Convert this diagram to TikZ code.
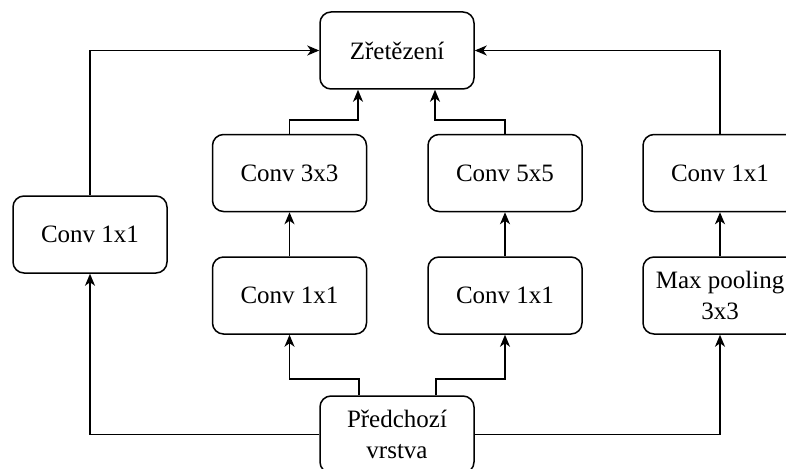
\documentclass[tikz,border=0pt]{standalone}
\usepackage{fontspec}
\setmainfont{Liberation Serif}
\usetikzlibrary{arrows.meta}
\begin{document}
\begin{tikzpicture}[x=1pt,y=-1pt,
  blk/.style={draw,line width=1.5pt,rounded corners=11pt,minimum width=154pt,minimum height=77pt,inner sep=0pt,align=center,font=\fontsize{25}{31}\selectfont},
  conn/.style={line width=1.5pt,-{Stealth[length=12pt,width=10pt,inset=3.5pt]}}]
\useasboundingbox (0,0) rectangle (786,468);
\clip (0,0) rectangle (786,468);
\node[blk] (cat) at (397,50.5) {Zřetězení};
\node[blk] (c33) at (289.5,173) {Conv 3x3};
\node[blk] (c55) at (505,173) {Conv 5x5};
\node[blk] (cl) at (90,234.5) {Conv 1x1};
\node[blk] (cr) at (720,173) {Conv 1x1};
\node[blk] (m1) at (289.5,295.5) {Conv 1x1};
\node[blk] (m2) at (505,295.5) {Conv 1x1};
\node[blk] (mp) at (720,295.5) {Max pooling\\3x3};
\node[blk] (prev) at (397,434.5) {Předchozí\\vrstva};
% inputs
\draw[conn] (prev.west) -| (cl.south);
\draw[conn] (prev.east) -| (mp.south);
\draw[conn] (prev.north -| 359,0) -- (359,379) -| (m1.south);
\draw[conn] (prev.north -| 436,0) -- (436,379) -| (m2.south);
% middle
\draw[conn] (m1) -- (c33);
\draw[conn] (m2) -- (c55);
\draw[conn] (mp) -- (cr);
% outputs
\draw[conn] (c33.north) -- (289.5,120) -| (cat.south -| 358,0);
\draw[conn] (c55.north) -- (505,120) -| (cat.south -| 435,0);
\draw[conn] (cl.north) |- (cat.west);
\draw[conn] (cr.north) |- (cat.east);
\end{tikzpicture}
\end{document}
